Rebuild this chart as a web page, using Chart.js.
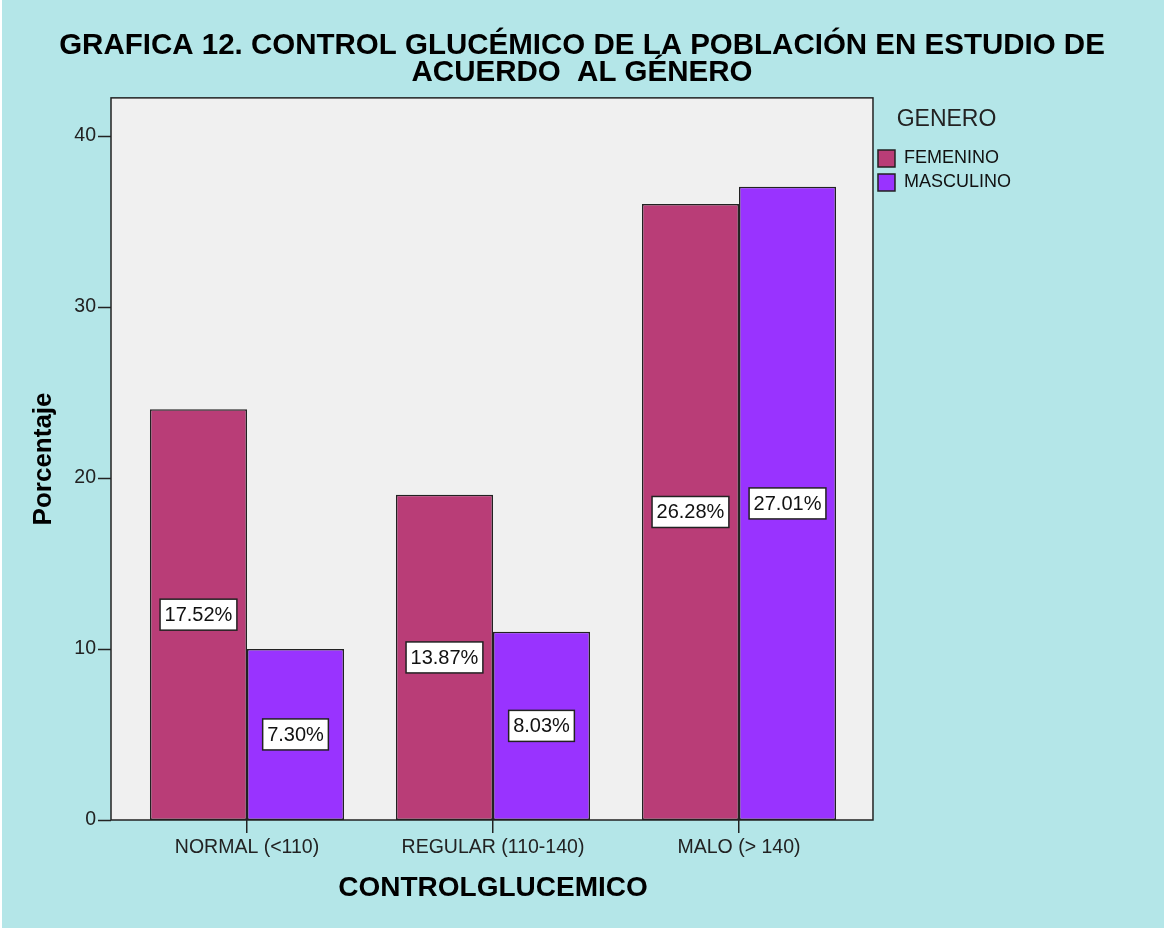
<!DOCTYPE html>
<html>
<head>
<meta charset="utf-8">
<script src="https://cdn.jsdelivr.net/npm/chart.js@4.4.1/dist/chart.umd.min.js"></script>
<style>
  html, body { margin: 0; padding: 0; background: #b4e6e8; }
  #wrap { width: 1164px; height: 930px; position: relative; }
</style>
</head>
<body>
<div id="wrap"><canvas id="glucemicoChart"></canvas></div>
<script>
// Data
const categories = ['NORMAL (<110)', 'REGULAR (110-140)', 'MALO (> 140)'];
const femenino = [24, 19, 36];
const masculino = [10, 11, 37];
const femeninoLabels = ['17.52%', '13.87%', '26.28%'];
const masculinoLabels = ['7.30%', '8.03%', '27.01%'];
const yTicks = [0, 10, 20, 30, 40];

const fontFamily = "'Liberation Sans', Arial, sans-serif";
const bgColor = '#b4e6e8';
const plotBg = '#f0f0f0';
const lineColor = '#222';

// plot frame sits a bit outside the category span (like the SPSS original)
const frameInset = { left: 13, right: 11 };

const framePlugin = {
    id: 'frame',
    afterLayout(chart) {
        // center the title over the whole canvas, nudge legend right
        const t = chart.titleBlock;
        if (t) { t.left = 0; t.right = chart.width; t.width = chart.width; }
        const lg = chart.legend;
        if (lg) { lg.left += 10; lg.right += 10; }
    },
    beforeDraw(chart) {
        const { ctx, chartArea: a } = chart;
        ctx.save();
        ctx.fillStyle = bgColor;
        ctx.fillRect(0, 0, chart.width, chart.height);
        ctx.fillStyle = '#fff';
        ctx.fillRect(0, 0, 2, chart.height);
        ctx.fillRect(0, chart.height - 2, chart.width, 2);
        ctx.fillStyle = plotBg;
        const l = a.left - frameInset.left, r = a.right + frameInset.right;
        ctx.fillRect(l, a.top, r - l, a.bottom - a.top);
        ctx.restore();
    },
    afterDraw(chart) {
        const { ctx, chartArea: a } = chart;
        const l = a.left - frameInset.left, r = a.right + frameInset.right;
        ctx.save();
        ctx.strokeStyle = lineColor;
        ctx.lineWidth = 1.5;
        ctx.strokeRect(l, a.top, r - l, a.bottom - a.top);
        // y tick marks outside the frame
        const ys = chart.scales.y;
        ctx.beginPath();
        yTicks.forEach(v => {
            const py = Math.round(ys.getPixelForValue(v)) + 0.5;
            ctx.moveTo(l - 13, py);
            ctx.lineTo(l, py);
        });
        ctx.stroke();
        ctx.restore();
    }
};

// boxed value labels in the middle of each bar
const boxLabels = {
    id: 'boxLabels',
    afterDatasetsDraw(chart) {
        const { ctx } = chart;
        const sets = [femeninoLabels, masculinoLabels];
        ctx.save();
        ctx.font = '20px ' + fontFamily;
        ctx.textAlign = 'center';
        ctx.textBaseline = 'middle';
        chart.data.datasets.forEach((ds, i) => {
            chart.getDatasetMeta(i).data.forEach((bar, j) => {
                const txt = sets[i][j];
                const cy = (bar.y + bar.base) / 2;
                const w = ctx.measureText(txt).width + 9;
                const h = 31;
                ctx.fillStyle = '#fff';
                ctx.fillRect(bar.x - w / 2, cy - h / 2, w, h);
                ctx.strokeStyle = lineColor;
                ctx.lineWidth = 1.5;
                ctx.strokeRect(bar.x - w / 2, cy - h / 2, w, h);
                ctx.fillStyle = '#111';
                ctx.fillText(txt, bar.x, cy + 1);
            });
        });
        ctx.restore();
    }
};

new Chart(document.getElementById('glucemicoChart'), {
    type: 'bar',
    data: {
        labels: categories,
        datasets: [
            {
                label: 'FEMENINO',
                data: femenino,
                backgroundColor: '#b93d77',
                borderColor: lineColor,
                borderWidth: 1.5,
                borderSkipped: false,
                categoryPercentage: 0.789,
                barPercentage: 1
            },
            {
                label: 'MASCULINO',
                data: masculino,
                backgroundColor: '#9933ff',
                borderColor: lineColor,
                borderWidth: 1.5,
                borderSkipped: false,
                categoryPercentage: 0.789,
                barPercentage: 1
            }
        ]
    },
    options: {
        responsive: true,
        maintainAspectRatio: false,
        animation: false,
        layout: { padding: { left: 0, right: 153, top: 0, bottom: 0 } },
        plugins: {
            title: {
                display: true,
                text: ['GRAFICA 12. CONTROL GLUCÉMICO DE LA POBLACIÓN EN ESTUDIO DE', 'ACUERDO  AL GÉNERO'],
                color: '#000',
                font: { family: fontFamily, size: 29.5, weight: 'bold', lineHeight: 0.93 },
                padding: { top: 32, bottom: 11 }
            },
            legend: {
                position: 'right',
                align: 'start',
                fullSize: false,
                title: {
                    display: true,
                    text: 'GENERO',
                    color: '#222',
                    font: { family: fontFamily, size: 23 },
                    padding: { top: 10, bottom: 8 }
                },
                labels: {
                    color: '#111',
                    font: { family: fontFamily, size: 18 },
                    boxWidth: 17,
                    boxHeight: 17,
                    padding: 6
                }
            },
            tooltip: { enabled: false }
        },
        scales: {
            x: {
                afterFit(scale) { scale.height = 110; },
                grid: { offset: false, drawOnChartArea: false, drawTicks: true, tickLength: 13, color: lineColor, lineWidth: 1.5 },
                border: { display: false },
                ticks: { color: '#222', padding: 3, font: { family: fontFamily, size: 19.5 } },
                title: {
                    display: true,
                    text: 'CONTROLGLUCEMICO',
                    color: '#000',
                    font: { family: fontFamily, size: 28, weight: 'bold' },
                    padding: { top: 0, bottom: 25 }
                }
            },
            y: {
                min: 0,
                max: 42.2,
                afterFit(scale) { scale.width = 124; },
                afterBuildTicks(scale) { scale.ticks = yTicks.map(v => ({ value: v })); },
                grid: { display: false, drawTicks: false },
                border: { display: false },
                ticks: { color: '#222', padding: 28, font: { family: fontFamily, size: 19.5 } },
                title: {
                    display: true,
                    text: 'Porcentaje',
                    color: '#000',
                    font: { family: fontFamily, size: 26, weight: 'bold' },
                    padding: { top: 28, bottom: 0 }
                }
            }
        }
    },
    plugins: [framePlugin, boxLabels]
});
</script>
</body>
</html>
